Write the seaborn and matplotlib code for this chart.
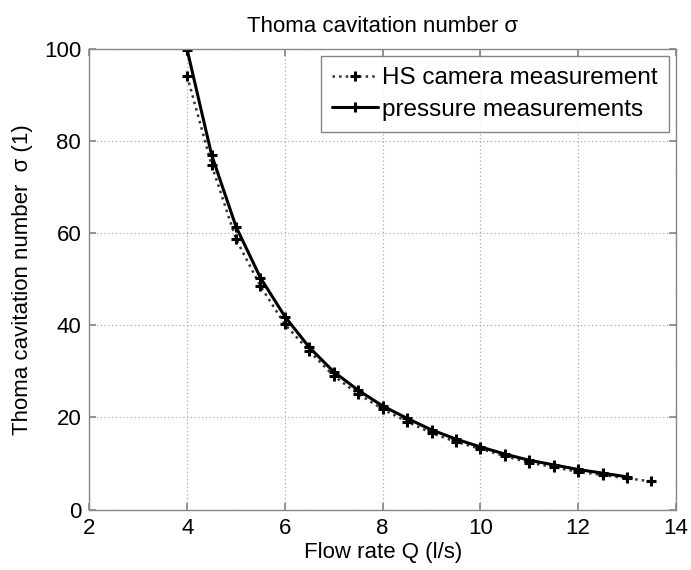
import matplotlib
matplotlib.use("Agg")
import matplotlib.pyplot as plt
import seaborn as sns
import pandas as pd

flow_hs = [4.0, 4.5, 5.0, 5.5, 6.0, 6.5, 7.0, 7.5, 8.0, 8.5, 9.0, 9.5, 10.0, 10.5, 11.0, 11.5, 12.0, 12.5, 13.0, 13.5]
sigma_hs = [94.1, 74.8, 58.7, 48.5, 40.2, 34.4, 29.0, 25.1, 21.8, 19.1, 16.6, 14.7, 13.2, 11.6, 10.2, 9.2, 8.2, 7.5, 6.8, 6.1]
flow_p = [4.0, 4.5, 5.0, 5.5, 6.0, 6.5, 7.0, 7.5, 8.0, 8.5, 9.0, 9.5, 10.0, 10.5, 11.0, 11.5, 12.0, 12.5, 13.0]
sigma_p = [99.8, 77.0, 61.4, 50.3, 41.9, 35.2, 29.9, 25.9, 22.5, 19.8, 17.3, 15.3, 13.6, 12.05, 10.7, 9.7, 8.7, 7.9, 7.1]

label_hs = "HS camera measurement"
label_p = "pressure measurements"

sns.set_theme(style="white")
plt.rcParams['font.family'] = ['Liberation Sans', 'DejaVu Sans']
plt.rcParams['text.color'] = 'black'
plt.rcParams['axes.labelcolor'] = 'black'

fig = plt.figure(figsize=(6.91, 5.70), dpi=100)
ax = fig.add_axes([0.1295, 0.1061, 0.978 - 0.1295, 0.914 - 0.1061])

df_hs = pd.DataFrame({"Q": flow_hs, "s": sigma_hs})
df_p = pd.DataFrame({"Q": flow_p, "s": sigma_p})

sns.lineplot(data=df_hs, x="Q", y="s", ax=ax, color="#333333", linestyle=":", linewidth=1.8,
             marker="+", markersize=7, markeredgewidth=2.2, markeredgecolor="black", label=label_hs)
sns.lineplot(data=df_p, x="Q", y="s", ax=ax, color="black", linestyle="-", linewidth=2.2,
             marker="+", markersize=7, markeredgewidth=2.2, markeredgecolor="black", label=label_p)

ax.set_xlim(2, 14)
ax.set_ylim(0, 100)
ax.set_xticks([2, 4, 6, 8, 10, 12, 14])
ax.set_yticks([0, 20, 40, 60, 80, 100])
ax.grid(True, linestyle=(0, (1, 2)), color="#aaaaaa", linewidth=0.9)
for sp in ax.spines.values():
    sp.set_color("#888888")
    sp.set_linewidth(1.0)
ax.tick_params(direction="in", length=5, color="#888888", top=True, right=True,
               labelsize=16, labelcolor="black", bottom=True, left=True, pad=6)

ax.set_xlabel("Flow rate Q (l/s)", fontsize=16, labelpad=2)
ax.set_ylabel("Thoma cavitation number  σ (1)", fontsize=16, labelpad=8)
ax.set_title("Thoma cavitation number σ", fontsize=16, pad=12)

leg = ax.legend(loc="upper right", fontsize=17.5, frameon=True, fancybox=False,
                handlelength=1.9, handletextpad=0.15, borderpad=0.45, labelspacing=0.4,
                borderaxespad=0.3)
leg.get_frame().set_edgecolor("#666666")
leg.get_frame().set_linewidth(1.0)

fig.savefig("out.png", dpi=100)
